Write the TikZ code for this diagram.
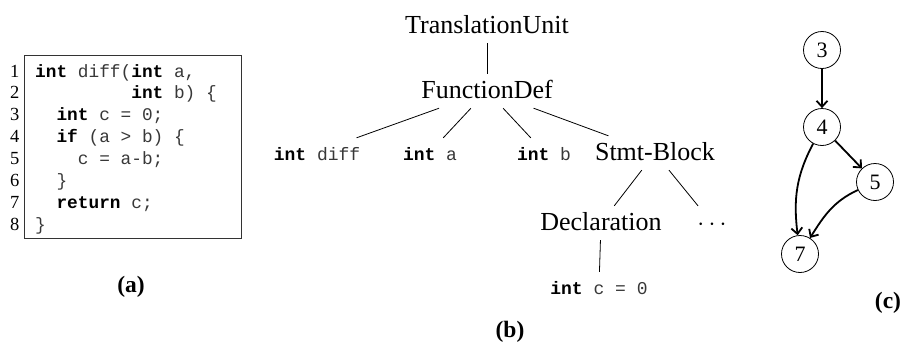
\documentclass[tikz,border=0pt]{standalone}
\usepackage{fontspec}
\setmainfont{Liberation Serif}
\setmonofont{Liberation Mono}
\usetikzlibrary{arrows.meta}
\newcommand\codekw[1]{\textcolor{black}{\textbf{#1}}}
\begin{document}
\begin{tikzpicture}[x=1pt,y=-1pt,
  codeline/.style={anchor=base west,inner sep=0pt,font=\fontsize{17.8}{21.9}\selectfont\ttfamily,text=black!78},
  lineno/.style={anchor=base east,inner sep=0pt,font=\fontsize{18.5}{21.9}\selectfont},
  treenode/.style={anchor=base,inner sep=0pt,text height=24pt,text depth=10pt,font=\fontsize{26}{30}\selectfont},
  leafnode/.style={anchor=base,inner sep=0pt,text height=22pt,text depth=6pt,font=\fontsize{18}{22}\selectfont\ttfamily,text=black!78},
  treeline/.style={draw=black,line width=0.8pt},
  cfgnode/.style={circle,draw,line width=0.8pt,minimum size=37pt,inner sep=0pt,font=\fontsize{22}{26}\selectfont},
  cfgedge/.style={draw,line width=1.8pt,-{Straight Barb[length=6pt,width=11pt]}},
  sublabel/.style={anchor=base,inner sep=0pt,font=\fontsize{23.5}{27}\selectfont\bfseries}]
\useasboundingbox (0,0) rectangle (902,343);
% (a) code listing
\node[draw=black!80,line width=0.8pt,minimum width=217pt,minimum height=183pt,inner sep=0pt,anchor=north west] (codebox) at (24,55) {};
\foreach \i in {1,...,8}{
  \node[lineno] (n\i) at (19.5,{77+21.9*(\i-1)}) {\i};
}
\def\cw{10.68}
\node[codeline] (l1) at (35,77) {\codekw{int} diff(\codekw{int} a,};
\node[codeline] (l2) at ({35+9*\cw},98.9) {\codekw{int} b) \{};
\node[codeline] (l3) at ({35+2*\cw},120.8) {\codekw{int} c = 0;};
\node[codeline] (l4) at ({35+2*\cw},142.7) {\codekw{if} (a > b) \{};
\node[codeline] (l5) at ({35+4*\cw},164.6) {c = a-b;};
\node[codeline] (l6) at ({35+2*\cw},186.5) {\}};
\node[codeline] (l7) at ({35+2*\cw},208.4) {\codekw{return} c;};
\node[codeline] (l8) at (35,230.3) {\}};
\node[sublabel] (la) at (131,292) {(a)};
% (b) AST
\node[treenode] (tu) at (487,33) {TranslationUnit};
\node[treenode] (fd) at (487,98) {FunctionDef};
\node[leafnode] (diff) at (317,160) {\codekw{int} diff};
\node[leafnode] (pa) at (430,160) {\codekw{int} a};
\node[leafnode] (pb) at (544,160) {\codekw{int} b};
\node[treenode] (sb) at (655,160) {Stmt-Block};
\node[treenode] (decl) at (601,230) {Declaration};
\node[treenode] (dots) at (712,230) {$\cdots$};
\node[leafnode] (dc) at (599,294) {\codekw{int} c = 0};
\draw[treeline] (tu) -- (fd);
\draw[treeline] (fd) -- (diff);
\draw[treeline] (fd) -- (pa);
\draw[treeline] (fd) -- (pb);
\draw[treeline] (fd) -- (sb);
\draw[treeline] (sb) -- (decl);
\draw[treeline] (sb) -- (dots);
\draw[treeline] (decl) -- (dc);
\node[sublabel] (lb) at (510,337) {(b)};
% (c) CFG
\node[cfgnode] (c3) at (822,50) {3};
\node[cfgnode] (c4) at (822,127) {4};
\node[cfgnode] (c5) at (875,182) {5};
\node[cfgnode] (c7) at (800,254) {7};
\draw[cfgedge] (c3) -- (c4);
\draw[cfgedge] (c4) -- (c5);
\draw[cfgedge] (c4) to[out=242,in=97] (c7);
\draw[cfgedge] (c5) to[out=205,in=58] (c7);
\node[sublabel] (lc) at (888,308) {(c)};
\end{tikzpicture}
\end{document}
